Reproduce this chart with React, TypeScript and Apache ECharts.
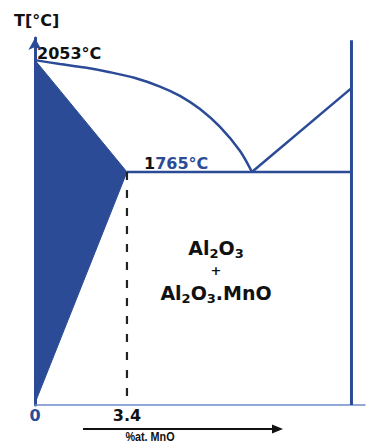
import React, { useEffect, useRef } from 'react';
import * as echarts from 'echarts';

const BLUE = '#2b4b96';
const AXIS_BLUE = '#6f8dcc';
const INK = '#111111';
const FONT = 'DejaVu Sans';

// Temperatures (°C)
const meltAl2O3 = 2053;
const eutecticT = 1765;
const tMin = 1165;
const tMax = 2110;

// Compositions (% at. MnO, schematic scale)
const compoundX = 3.4;
const eutecticX = 8.02;
const rightX = 11.7;
const xMax = 12.2;

// Liquidus, Al2O3 side (composition, temperature)
const liquidusLeft: [number, number][] = [
  [0, meltAl2O3],
  [0.92, 2043],
  [1.85, 2034],
  [2.77, 2022],
  [3.7, 2007],
  [4.62, 1985],
  [5.36, 1961],
  [6.1, 1927],
  [6.84, 1881],
  [7.58, 1819],
  [eutecticX, eutecticT],
];

// Liquidus, MnO side
const liquidusRight: [number, number][] = [
  [eutecticX, eutecticT],
  [rightX, 1981],
];

// Solid solution field
const solidField: [number, number][] = [
  [0, meltAl2O3],
  [compoundX, eutecticT],
  [0, 1170],
];

const eutecticLine: [number, number][] = [
  [compoundX, eutecticT],
  [rightX, eutecticT],
];

const rightBoundary: [number, number][] = [
  [rightX, tMin],
  [rightX, 2104],
];

const compoundLine: [number, number][] = [
  [compoundX, eutecticT],
  [compoundX, tMin],
];

const xTickValues = [0, compoundX];
const xTickLabels = ['0', '3.4'];

const subRich = {
  m: { fontFamily: FONT, fontWeight: 'bold', fontSize: 19, lineHeight: 22, verticalAlign: 'top', fill: INK },
  s: { fontFamily: FONT, fontWeight: 'bold', fontSize: 13, lineHeight: 14, padding: [10, 0, 0, 0], verticalAlign: 'bottom', fill: INK },
};

export default function App() {
  const ref = useRef<HTMLDivElement>(null);

  useEffect(() => {
    document.body.style.margin = '0';
    if (!ref.current) return;
    const chart = echarts.init(ref.current, null, { renderer: 'svg' });

    const lineSeries = (data: [number, number][], color: string, width: number, extra: any = {}) => ({
      type: 'line',
      data,
      symbol: 'none',
      silent: true,
      lineStyle: { color, width, cap: 'butt', ...(extra.lineStyle || {}) },
      smooth: extra.smooth || false,
      z: extra.z || 3,
    });

    chart.setOption({
      animation: false,
      backgroundColor: '#ffffff',
      grid: { left: 35, right: 1, top: 38, bottom: 39, outerBoundsMode: 'none' },
      xAxis: {
        type: 'value',
        min: 0,
        max: xMax,
        splitLine: { show: false },
        axisTick: { show: false },
        axisLine: { show: true, onZero: false, lineStyle: { color: AXIS_BLUE, width: 1.5 } },
        axisLabel: {
          show: true,
          customValues: xTickValues,
          margin: 2,
          formatter: (v: number) => {
            const i = xTickValues.indexOf(v);
            const txt = i >= 0 ? xTickLabels[i] : '';
            return v === 0 ? `{b|${txt}}` : `{k|${txt}}`;
          },
          rich: {
            b: { fontFamily: FONT, fontWeight: 'bold', fontSize: 16, color: BLUE },
            k: { fontFamily: FONT, fontWeight: 'bold', fontSize: 16, color: INK },
          },
        },
      },
      yAxis: {
        type: 'value',
        min: tMin,
        max: tMax,
        splitLine: { show: false },
        axisTick: { show: false },
        axisLabel: { show: false },
        axisLine: {
          show: true,
          onZero: false,
          symbol: ['none', 'arrow'],
          symbolSize: [10, 12],
          lineStyle: { color: BLUE, width: 3 },
        },
      },
      series: [
        {
          type: 'custom',
          silent: true,
          data: [0],
          z: 2,
          renderItem: (_p: any, api: any) => ({
            type: 'polygon',
            shape: { points: solidField.map((pt) => api.coord(pt)) },
            style: { fill: BLUE, stroke: BLUE, lineWidth: 1 },
          }),
        },
        lineSeries(liquidusLeft, BLUE, 2.5, { smooth: 0.3 }),
        lineSeries(liquidusRight, BLUE, 2.5),
        lineSeries(eutecticLine, BLUE, 2.5),
        lineSeries(rightBoundary, BLUE, 3),
        lineSeries(compoundLine, '#222222', 2.2, { lineStyle: { type: [8, 10] } }),
      ],
      graphic: [
        {
          type: 'text',
          x: 14,
          y: 20,
          style: { text: 'T[°C]', fontFamily: FONT, fontWeight: 'bold', fontSize: 16, fill: INK, verticalAlign: 'middle' },
        },
        {
          type: 'text',
          x: 37,
          y: 53,
          style: { text: `${meltAl2O3}°C`, fontFamily: FONT, fontWeight: 'bold', fontSize: 16, fill: INK, verticalAlign: 'middle' },
        },
        {
          type: 'text',
          x: 144,
          y: 163,
          style: {
            text: `{k|${String(eutecticT)[0]}}{b|${String(eutecticT).slice(1)}°C}`,
            verticalAlign: 'middle',
            rich: {
              k: { fontFamily: FONT, fontWeight: 'bold', fontSize: 16, fill: INK },
              b: { fontFamily: FONT, fontWeight: 'bold', fontSize: 16, fill: BLUE },
            },
          },
        },
        {
          type: 'text',
          x: 216,
          y: 249,
          style: { text: '{m|Al}{s|2}{m|O}{s|3}', rich: subRich, align: 'center', verticalAlign: 'middle' },
        },
        {
          type: 'text',
          x: 216,
          y: 270,
          style: { text: '+', fontFamily: FONT, fontWeight: 'bold', fontSize: 13, fill: INK, align: 'center', verticalAlign: 'middle' },
        },
        {
          type: 'text',
          x: 216,
          y: 294,
          style: { text: '{m|Al}{s|2}{m|O}{s|3}{m|.MnO}', rich: subRich, align: 'center', verticalAlign: 'middle' },
        },
        {
          type: 'line',
          shape: { x1: 83, y1: 429, x2: 274, y2: 429 },
          style: { stroke: INK, lineWidth: 2 },
        },
        {
          type: 'polygon',
          shape: { points: [[272, 424.5], [283, 429], [272, 433.5]] },
          style: { fill: INK },
        },
        {
          type: 'text',
          x: 150,
          y: 443,
          scaleX: 0.9,
          style: { text: '%at. MnO', fontFamily: 'Liberation Sans', fontWeight: 'bold', fontSize: 12, lineHeight: 12, fill: INK, align: 'center', verticalAlign: 'bottom' },
        },
      ],
    });

    return () => chart.dispose();
  }, []);

  return <div ref={ref} style={{ width: 366, height: 444 }} />;
}
